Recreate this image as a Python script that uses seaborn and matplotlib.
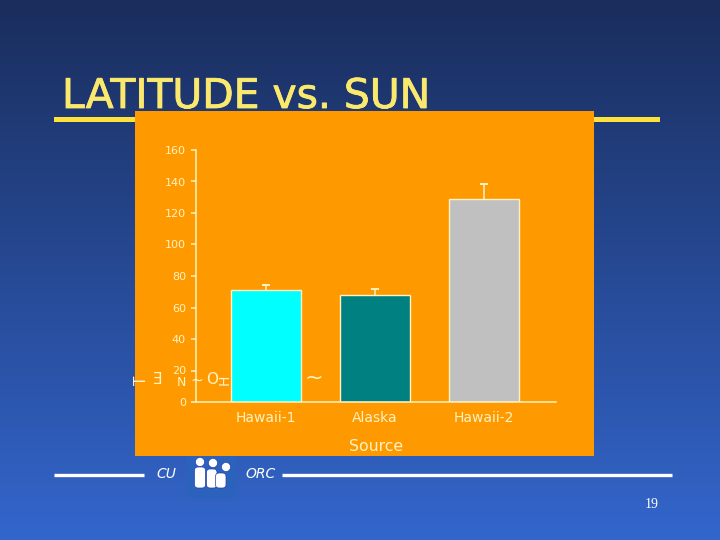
import numpy as np
import pandas as pd
import matplotlib
matplotlib.use('Agg')
import matplotlib.pyplot as plt
import matplotlib.patheffects as pe
from matplotlib.patches import Circle, FancyBboxPatch, Rectangle
import seaborn as sns

# Values
sources = ['Hawaii-1', 'Alaska', 'Hawaii-2']
means = [71, 68, 129]
errors = [3.5, 4, 9.5]
bar_colors = ['#00ffff', '#008080', '#c0c0c0']
y_ticks = [0, 20, 40, 60, 80, 100, 120, 140, 160]

W, H = 720, 540
CREAM = '#fff3c4'
YELLOW = '#ffe13c'

sns.set_theme(style='white')
plt.rcParams['font.family'] = ['DejaVu Sans']

fig = plt.figure(figsize=(W / 100, H / 100), dpi=100)

# Slide background and decoration, in pixel coordinates
bg = fig.add_axes([0, 0, 1, 1])
bg.set_xlim(0, W)
bg.set_ylim(H, 0)
bg.axis('off')
grad = np.linspace(0, 1, 540).reshape(-1, 1, 1)
top = np.array([0x1a, 0x2d, 0x5c]) / 255
bottom = np.array([0x33, 0x66, 0xcc]) / 255
bg.imshow(top + (bottom - top) * grad, extent=[0, W, H, 0], aspect='auto', zorder=0)

title = bg.text(62, 108, 'LATITUDE vs. SUN', color='#fbe96e', fontsize=29.4, va='baseline', zorder=2)
title.set_path_effects([pe.withStroke(linewidth=0.6, foreground='#fbe96e')])
bg.add_patch(Rectangle((54, 117), 606, 5, color=YELLOW, lw=0, zorder=2))
bg.add_patch(Rectangle((135, 111), 459, 345, color='#ff9900', lw=0, zorder=3))

bg.plot([54, 144], [475, 475], color='white', lw=2.4, zorder=2, solid_capstyle='butt')
bg.plot([282, 672], [475, 475], color='white', lw=2.4, zorder=2, solid_capstyle='butt')
bg.text(156, 474, 'CU', color='white', fontsize=10, style='italic', va='center', zorder=2)
bg.text(245, 474, 'ORC', color='white', fontsize=10, style='italic', va='center', zorder=2)
bg.text(652, 505, '19', color='white', fontsize=10, ha='center', va='center',
        family='Liberation Serif', zorder=2)

# Logo with three figures
bg.add_patch(Rectangle((187, 456), 49, 42, color='#2b62bb', lw=0, zorder=2))
for cx, cy, x0, y0, w, h in [(200, 462, 194.5, 467, 11, 21),
                             (213, 463, 206.5, 469, 10.5, 19),
                             (226, 467, 215.5, 473, 10.5, 15)]:
    bg.add_patch(Circle((cx, cy), 4.6, fc='white', ec='#1f3fb0', lw=0.5, zorder=4))
    bg.add_patch(FancyBboxPatch((x0, y0), w, h, boxstyle='round,pad=0,rounding_size=3.5',
                                fc='white', ec='#1f3fb0', lw=0.5, zorder=4))

# Broken axis title as it shows in the slide
for x, ch, rot, size, y in [(142, 'T', 90, 11, 380), (157, 'Ǝ', 0, 11, 380), (181, 'N', 0, 9, 383),
                            (197, '~', 0, 11, 380), (212, 'O', 0, 11, 380), (225, 'H', 90, 10, 380),
                            (314, '~', 0, 16, 378)]:
    bg.text(x, y, ch, color=CREAM, fontsize=size, rotation=rot, ha='center', va='center', zorder=5)

# The bar chart itself
ax = fig.add_axes([196 / W, 1 - 402 / H, 360 / W, 252 / H], facecolor='none')
df = pd.DataFrame({'Source': sources, 'Mean': means})
sns.barplot(data=df, x='Source', y='Mean', hue='Source', palette=bar_colors, dodge=False,
            legend=False, width=0.642, saturation=1, edgecolor=CREAM, linewidth=1.0, ax=ax,
            errorbar=None)
err = ax.errorbar(range(len(sources)), means, yerr=[[0] * 3, errors], fmt='none', ecolor=CREAM,
                  elinewidth=1.1, capsize=3, capthick=1.4)
# Only the upper caps are drawn
err[1][0].set_visible(False)
ax.set_xlim(-0.642, 2.66)
ax.set_ylim(0, 160)
ax.set_yticks(y_ticks)
ax.set_xlabel('Source', color=CREAM, fontsize=11.3, labelpad=10)
ax.set_ylabel('')
ax.tick_params(axis='y', colors=CREAM, labelsize=8, length=3.6, width=1.1, left=True, pad=3.6)
ax.tick_params(axis='x', colors=CREAM, labelsize=10, length=0, pad=6.7)
sns.despine(ax=ax)
for side in ['left', 'bottom']:
    ax.spines[side].set_color(CREAM)
    ax.spines[side].set_linewidth(1.1)

fig.savefig('out.png', dpi=100)
